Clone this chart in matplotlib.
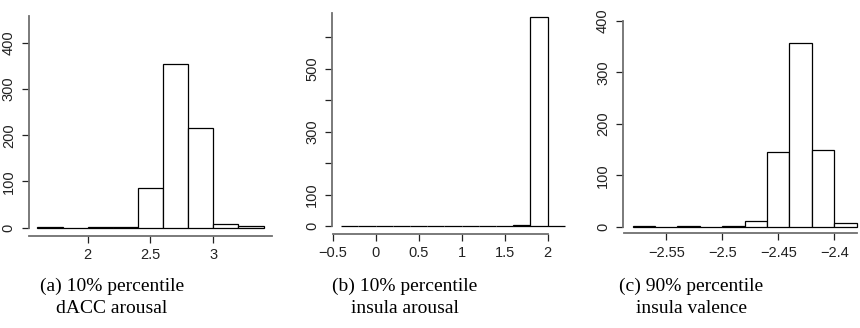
import numpy as np
import matplotlib
matplotlib.use("Agg")
import matplotlib.pyplot as plt

# histogram data
edges_a = [1.6, 1.8, 2.0, 2.2, 2.4, 2.6, 2.8, 3.0, 3.2, 3.4]
counts_a = [1, 0, 1, 2, 86, 353, 215, 8, 4]

edges_b = [-0.4, -0.2, 0.0, 0.2, 0.4, 0.6, 0.8, 1.0, 1.2, 1.4, 1.6, 1.8, 2.0, 2.2]
counts_b = [1, 0, 0, 1, 0, 0, 0, 0, 1, 0, 5, 664, 1]

edges_c = [-2.58, -2.56, -2.54, -2.52, -2.50, -2.48, -2.46, -2.44, -2.42, -2.40, -2.38]
counts_c = [1, 0, 1, 0, 2, 11, 146, 357, 149, 7]

xticks_a = [2, 2.5, 3]
xlabels_a = ["2", "2.5", "3"]
yticks_a = [0, 100, 200, 300, 400]
ylabels_a = ["0", "100", "200", "300", "400"]

xticks_b = [-0.5, 0, 0.5, 1, 1.5, 2]
xlabels_b = ["\u22120.5", "0", "0.5", "1", "1.5", "2"]
yticks_b = [0, 100, 200, 300, 400, 500, 600]
ylabels_b = ["0", "100", "", "300", "", "500", ""]

xticks_c = [-2.55, -2.5, -2.45, -2.4]
xlabels_c = ["\u22122.55", "\u22122.5", "\u22122.45", "\u22122.4"]
yticks_c = [0, 100, 200, 300, 400]
ylabels_c = ["0", "100", "200", "300", "400"]

captions = ["(a) 10% percentile\ndACC arousal",
            "(b) 10% percentile\ninsula arousal",
            "(c) 90% percentile\ninsula valence"]

W, H = 860, 328
fig = plt.figure(figsize=(W / 100, H / 100), dpi=100)
plt.rcParams["font.family"] = ["Liberation Sans", "DejaVu Sans"]


def make_axes(box, xcal, ycal):
    # box = left, top, right, bottom in pixels; cal = ((v1, p1), (v2, p2))
    l, t, r, b = box
    (xv1, xp1), (xv2, xp2) = xcal
    (yv1, yp1), (yv2, yp2) = ycal
    sx = (xp2 - xp1) / (xv2 - xv1)
    sy = (yp2 - yp1) / (yv2 - yv1)
    ax = fig.add_axes([l / W, 1 - b / H, (r - l) / W, (b - t) / H])
    ax.set_xlim(xv1 + (l - xp1) / sx, xv1 + (r - xp1) / sx)
    ax.set_ylim(yv1 + (b - yp1) / sy, yv1 + (t - yp1) / sy)
    return ax


def draw(ax, edges, counts, xt, xl, yt, yl, xbounds, ybounds):
    edges = np.array(edges)
    ax.bar(edges[:-1], counts, width=np.diff(edges), align="edge",
           facecolor="white", edgecolor="black", linewidth=0.9)
    ax.set_xticks(xt)
    ax.set_xticklabels(xl)
    ax.set_yticks(yt)
    ax.set_yticklabels(yl, rotation=90, va="center")
    for s in ["top", "right"]:
        ax.spines[s].set_visible(False)
    for s in ["left", "bottom"]:
        ax.spines[s].set_color("#707070")
        ax.spines[s].set_linewidth(1.3)
    ax.spines["bottom"].set_bounds(*xbounds)
    ax.spines["left"].set_bounds(*ybounds)
    ax.tick_params(length=5, width=0.9, color="#222222", labelsize=10.5,
                   labelcolor="#222222")
    ax.tick_params(axis="x", pad=4)
    ax.tick_params(axis="y", pad=4.5)


ax_a = make_axes((29, 10, 275, 235.5), ((2, 87.7), (3, 213.3)), ((0, 227.7), (400, 42.7)))
draw(ax_a, edges_a, counts_a, xticks_a, xlabels_a, yticks_a, ylabels_a,
     (1.533, 3.47), (0, 457))

ax_b = make_axes((332.3, 10, 568, 233.5), ((-0.5, 332.5), (2, 547.7)), ((0, 226.3), (600, 37.3)))
draw(ax_b, edges_b, counts_b, xticks_b, xlabels_b, yticks_b, ylabels_b,
     (-0.5, 2), (0, 676))

ax_c = make_axes((623.3, 10, 860, 233.3), ((-2.55, 666.3), (-2.4, 834.3)), ((0, 226.7), (400, 21)))
draw(ax_c, edges_c, counts_c, xticks_c, xlabels_c, yticks_c, ylabels_c,
     (-2.588, -2.38), (0, 400))

cap_x = [112, 405, 691]
for cx, txt in zip(cap_x, captions):
    fig.text(cx / W, 1 - 297 / H, txt, ha="center", va="center",
             multialignment="center",
             family=["Liberation Serif", "DejaVu Serif"], fontsize=14,
             linespacing=1.4)

fig.savefig("out.png", dpi=100)
